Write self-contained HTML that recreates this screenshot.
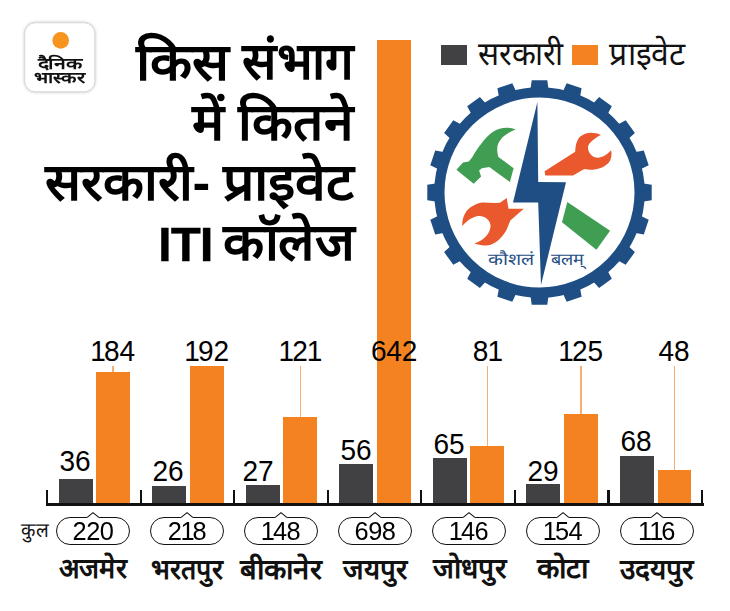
<!DOCTYPE html>
<html lang="hi"><head><meta charset="utf-8"><title>किस संभाग में कितने सरकारी- प्राइवेट ITI कॉलेज</title>
<style>
html,body{margin:0;padding:0;background:#fff}
body{width:730px;height:611px;overflow:hidden;font-family:"Liberation Sans",sans-serif;color:#000}
#c{position:relative;width:730px;height:611px;overflow:hidden;background:#fff}
.abs,.hi,.bar,.num,.ld,.tick,.pill{position:absolute}
.hi{overflow:visible}
.hi text,.svgt{font-family:"Liberation Sans",sans-serif}
.g{background:#414042}.o{background:#f58220}
.ld{width:1.4px;background:#f8ae72}
.tick,.axis{background:#111;position:absolute}
.num{font-size:28.60px;line-height:1;white-space:nowrap;text-align:center;letter-spacing:-0.2px;transform:translateX(-50%) scaleX(.98)}
.pill{box-sizing:border-box;border:1.1px solid #111;border-radius:14px;background:#fff;text-align:center}
.pill>span{position:absolute;left:0;right:0;text-align:center;line-height:1;letter-spacing:-0.4px;transform:scaleX(.97)}
.n1{margin:0 -1.7px 0 -0.9px}
.latin{position:absolute;font-weight:bold;line-height:1;white-space:nowrap;transform-origin:0 0}
</style></head><body><div id="c">
<svg class="abs" role="img" aria-label="ITI emblem" style="left:0;top:0" width="730" height="611" viewBox="0 0 730 611"><path fill="#1f4e84" d="M530.6 88.6L531.7 80.3L547.3 80.3L548.4 88.6ZM563.1 90.9L566.7 83.3L581.6 88.2L580.1 96.4ZM593.4 103.2L599.1 97.1L611.8 106.3L607.8 113.7ZM618.3 124.2L625.7 120.2L634.9 132.9L628.8 138.6ZM635.6 151.9L643.8 150.4L648.7 165.3L641.1 168.9ZM643.4 183.6L651.7 184.7L651.7 200.3L643.4 201.4ZM641.1 216.1L648.7 219.7L643.8 234.6L635.6 233.1ZM628.8 246.4L634.9 252.1L625.7 264.8L618.3 260.8ZM607.8 271.3L611.8 278.7L599.1 287.9L593.4 281.8ZM580.1 288.6L581.6 296.8L566.7 301.7L563.1 294.1ZM548.4 296.4L547.3 304.7L531.7 304.7L530.6 296.4ZM515.9 294.1L512.3 301.7L497.4 296.8L498.9 288.6ZM485.6 281.8L479.9 287.9L467.2 278.7L471.2 271.3ZM460.7 260.8L453.3 264.8L444.1 252.1L450.2 246.4ZM443.4 233.1L435.2 234.6L430.3 219.7L437.9 216.1ZM435.6 201.4L427.3 200.3L427.3 184.7L435.6 183.6ZM437.9 168.9L430.3 165.3L435.2 150.4L443.4 151.9ZM450.2 138.6L444.1 132.9L453.3 120.2L460.7 124.2ZM471.2 113.7L467.2 106.3L479.9 97.1L485.6 103.2ZM498.9 96.4L497.4 88.2L512.3 83.3L515.9 90.9Z"/><circle cx="539.5" cy="192.5" r="100.15" fill="none" stroke="#1f4e84" stroke-width="10.30"/><path fill="#1f4e84" d="M537.4 102L538.2 182L566 182.3L541 285L538.2 202.5L513 202.5Z"/><path fill="#3f9e52" d="M515.6 129.5C509 127 500.8 126.9 492.6 132C484.4 138 477 149.2 472.1 157.5L468.8 161.6L463 162.4L456.4 169.8L473.7 183.8L481.1 176.4L479.1 170.6L481.9 168.2L489.3 167L509.9 182.1L513.6 168.2L498.4 157.1C496 148 497.5 143 500.8 139.4C504 135.5 509 132 515.6 129.5Z"/><path fill="#3f9e52" d="M567.3 202L610.1 230.7L596.4 249.7L562 222.2Z"/><path fill="#e9592d" d="M544.6 171.2L575.2 151.7C575.5 143 578 137.5 581.5 135.7C586 132.3 594 131.5 600.9 135C594 138.5 589 143 588.1 146.2C587.5 151 590.5 155.5 594.7 157.3C600.5 158.8 606.5 155.5 611.1 150.3C612.5 156 610.5 161 607.9 163.5C603 168.5 593.5 171.2 584.2 169.1L573.1 175.4L545.3 175.6Z"/><path fill="#e9592d" d="M506.7 198L500.4 202.5C494 203.8 488 202.3 482.4 202.5C474 203.5 468 209 466.2 211.5C463.3 216 462 221 462.2 225.9C467 220.5 473 216.5 478.8 216C485 215.8 489.8 220 490.5 225C490.8 231 487 236 482.4 239.4C479.8 241.3 477 242.5 474.3 243.3C480 246 487 245.8 491.4 244.4C498 242 503.5 235.5 506.7 229.5L510.3 220.5L523.8 208.8L508.5 208.8Z"/><text class="svgt" x="488.2" y="264.9" font-size="16.6" fill="#1f4e84" textLength="45.5" lengthAdjust="spacingAndGlyphs">कौशलं</text><text class="svgt" x="551" y="264.9" font-size="16.6" fill="#1f4e84" textLength="32.5" lengthAdjust="spacingAndGlyphs">बलम्</text></svg>
<svg class="abs" role="img" aria-label="Dainik Bhaskar" style="left:0;top:0;filter:drop-shadow(0 0 1.5px rgba(0,0,0,.25))" width="130" height="110" viewBox="0 0 130 110"><rect x="24.8" y="22.8" width="70" height="69" rx="10.5" fill="#fff" stroke="#d9d9d9" stroke-width="1"/><circle cx="60.7" cy="40.4" r="8.3" fill="#f7941d"/><text class="svgt" x="37.53" y="68.5" font-size="15.6" font-weight="bold" fill="#111" textLength="45" lengthAdjust="spacingAndGlyphs">दैनिक</text><text class="svgt" x="33.94" y="82.5" font-size="15.6" font-weight="bold" fill="#111" textLength="50.4" lengthAdjust="spacingAndGlyphs">भास्कर</text></svg>
<svg class="hi" role="img" aria-label="किस" style="left:133.86px;top:32.83px;width:97.79px;height:48.01px" viewBox="0 0 97.79 48.01"><text x="2.30" y="46.97" font-size="51.8" font-weight="bold" fill="#000" textLength="93.2" lengthAdjust="spacingAndGlyphs">किस</text></svg>
<svg class="hi" role="img" aria-label="संभाग" style="left:239.78px;top:33.45px;width:115.75px;height:47.39px" viewBox="0 0 115.75 47.39"><text x="2.25" y="46.35" font-size="51.8" font-weight="bold" fill="#000" textLength="111.2" lengthAdjust="spacingAndGlyphs">संभाग</text></svg>
<svg class="hi" role="img" aria-label="में" style="left:190.36px;top:93.45px;width:36.77px;height:48.09px" viewBox="0 0 36.77 48.09"><text x="2.28" y="47.05" font-size="51.8" font-weight="bold" fill="#000" textLength="32.2" lengthAdjust="spacingAndGlyphs">में</text></svg>
<svg class="hi" role="img" aria-label="कितने" style="left:236.08px;top:93.45px;width:119.53px;height:48.09px" viewBox="0 0 119.53 48.09"><text x="2.24" y="47.05" font-size="51.8" font-weight="bold" fill="#000" textLength="115.1" lengthAdjust="spacingAndGlyphs">कितने</text></svg>
<svg class="hi" role="img" aria-label="सरकारी-" style="left:43.36px;top:152.41px;width:167.48px;height:48.62px" viewBox="0 0 167.48 48.62"><text x="2.29" y="47.58" font-size="51.8" font-weight="bold" fill="#000" textLength="165" lengthAdjust="spacingAndGlyphs">सरकारी-</text></svg>
<svg class="hi" role="img" aria-label="प्राइवेट" style="left:220.56px;top:152.95px;width:135.18px;height:57.48px" viewBox="0 0 135.18 57.48"><text x="2.29" y="47.02" font-size="51.8" font-weight="bold" fill="#000" textLength="130.6" lengthAdjust="spacingAndGlyphs">प्राइवेट</text></svg>
<svg class="hi" role="img" aria-label="कॉलेज" style="left:220.86px;top:213.45px;width:135.28px;height:48.09px" viewBox="0 0 135.28 48.09"><text x="2.29" y="47.05" font-size="51.8" font-weight="bold" fill="#000" textLength="130.7" lengthAdjust="spacingAndGlyphs">कॉलेज</text></svg>
<div class="latin" style="left:157.6px;top:220.5px;font-size:47.4px;letter-spacing:-1.0px;transform:scaleX(1.04);-webkit-text-stroke:0.3px #000">ITI</div>
<div class="abs g" style="left:441.0px;top:44.8px;width:26.2px;height:20.4px"></div><svg class="hi" role="img" aria-label="सरकारी" style="left:476.84px;top:35.39px;width:87.32px;height:30.36px" viewBox="0 0 87.32 30.36"><text x="1.29" y="29.70" font-size="32.8" fill="#111" textLength="84.7" lengthAdjust="spacingAndGlyphs">सरकारी</text></svg><div class="abs o" style="left:571.5px;top:44.8px;width:26.3px;height:20.4px"></div><svg class="hi" role="img" aria-label="प्राइवेट" style="left:607.64px;top:35.42px;width:78.82px;height:36.17px" viewBox="0 0 78.82 36.17"><text x="1.29" y="29.68" font-size="32.8" fill="#111" textLength="76.2" lengthAdjust="spacingAndGlyphs">प्राइवेट</text></svg>
<div class="bar g" style="left:58.70px;top:478.9px;width:33.9px;height:25.1px"></div><div class="bar o" style="left:96.20px;top:371.8px;width:33.9px;height:132.2px"></div><div class="ld" style="left:112.45px;top:366.3px;height:5.5px"></div><div class="num" style="left:75.05px;top:447.4px">36</div><div class="num" style="left:113.15px;top:337.2px"><span class="n1">1</span>84</div><div class="pill" style="left:56.00px;top:516.5px;width:74px;height:28px"><span style="top:0.4px;font-size:26.2px">220</span></div><svg class="abs" style="left:86.00px;top:510.5px" width="14" height="8" viewBox="0 0 14 8"><path d="M0.6 7.6L1.2 6.4L7 1.6L12.8 6.4L13.4 7.6Z" fill="#fff"/><path d="M1.2 6.45L7 1.6L12.8 6.45" fill="none" stroke="#111" stroke-width="1.1"/></svg><svg class="hi" role="img" aria-label="अजमेर" style="left:58.99px;top:553.39px;width:68.61px;height:25.97px" viewBox="0 0 68.61 25.97"><text x="-0.08" y="25.41" font-size="28" font-weight="bold" fill="#111" textLength="67.5" lengthAdjust="spacingAndGlyphs">अजमेर</text></svg>
<div class="bar g" style="left:152.25px;top:486.2px;width:33.9px;height:17.8px"></div><div class="bar o" style="left:189.75px;top:366.0px;width:33.9px;height:138.0px"></div><div class="num" style="left:168.40px;top:456.5px">26</div><div class="num" style="left:206.70px;top:337.2px"><span class="n1">1</span>92</div><div class="pill" style="left:149.95px;top:516.5px;width:74px;height:28px"><span style="top:0.4px;font-size:26.2px">2<span class="n1">1</span>8</span></div><svg class="abs" style="left:179.95px;top:510.5px" width="14" height="8" viewBox="0 0 14 8"><path d="M0.6 7.6L1.2 6.4L7 1.6L12.8 6.4L13.4 7.6Z" fill="#fff"/><path d="M1.2 6.45L7 1.6L12.8 6.45" fill="none" stroke="#111" stroke-width="1.1"/></svg><svg class="hi" role="img" aria-label="भरतपुर" style="left:150.25px;top:560.23px;width:73.40px;height:27.77px" viewBox="0 0 73.40 27.77"><text x="1.18" y="18.56" font-size="28" font-weight="bold" fill="#111" textLength="71" lengthAdjust="spacingAndGlyphs">भरतपुर</text></svg>
<div class="bar g" style="left:245.80px;top:485.2px;width:33.9px;height:18.8px"></div><div class="bar o" style="left:283.30px;top:417.2px;width:33.9px;height:86.8px"></div><div class="ld" style="left:299.55px;top:366.3px;height:50.9px"></div><div class="num" style="left:258.45px;top:457.4px">27</div><div class="num" style="left:300.25px;top:337.2px"><span class="n1">1</span>2<span class="n1">1</span></div><div class="pill" style="left:243.90px;top:516.5px;width:74px;height:28px"><span style="top:0.4px;font-size:26.2px"><span class="n1">1</span>48</span></div><svg class="abs" style="left:273.90px;top:510.5px" width="14" height="8" viewBox="0 0 14 8"><path d="M0.6 7.6L1.2 6.4L7 1.6L12.8 6.4L13.4 7.6Z" fill="#fff"/><path d="M1.2 6.45L7 1.6L12.8 6.45" fill="none" stroke="#111" stroke-width="1.1"/></svg><svg class="hi" role="img" aria-label="बीकानेर" style="left:239.04px;top:553.17px;width:83.73px;height:26.19px" viewBox="0 0 83.73 26.19"><text x="1.18" y="25.63" font-size="28" font-weight="bold" fill="#111" textLength="81.4" lengthAdjust="spacingAndGlyphs">बीकानेर</text></svg>
<div class="bar g" style="left:339.35px;top:464.4px;width:33.9px;height:39.6px"></div><div class="bar o" style="left:376.85px;top:40.0px;width:33.9px;height:464.0px"></div><div class="num" style="left:356.30px;top:435.6px">56</div><div class="num" style="left:393.80px;top:337.2px">642</div><div class="pill" style="left:337.85px;top:516.5px;width:74px;height:28px"><span style="top:0.4px;font-size:26.2px">698</span></div><svg class="abs" style="left:367.85px;top:510.5px" width="14" height="8" viewBox="0 0 14 8"><path d="M0.6 7.6L1.2 6.4L7 1.6L12.8 6.4L13.4 7.6Z" fill="#fff"/><path d="M1.2 6.45L7 1.6L12.8 6.45" fill="none" stroke="#111" stroke-width="1.1"/></svg><svg class="hi" role="img" aria-label="जयपुर" style="left:341.94px;top:560.23px;width:65.81px;height:27.77px" viewBox="0 0 65.81 27.77"><text x="1.20" y="18.56" font-size="28" font-weight="bold" fill="#111" textLength="63.4" lengthAdjust="spacingAndGlyphs">जयपुर</text></svg>
<div class="bar g" style="left:432.90px;top:458.0px;width:33.9px;height:46.0px"></div><div class="bar o" style="left:470.40px;top:446.2px;width:33.9px;height:57.8px"></div><div class="ld" style="left:486.65px;top:366.3px;height:79.9px"></div><div class="num" style="left:449.25px;top:430.2px">65</div><div class="num" style="left:487.35px;top:337.2px">8<span class="n1">1</span></div><div class="pill" style="left:431.80px;top:516.5px;width:74px;height:28px"><span style="top:0.4px;font-size:26.2px"><span class="n1">1</span>46</span></div><svg class="abs" style="left:461.80px;top:510.5px" width="14" height="8" viewBox="0 0 14 8"><path d="M0.6 7.6L1.2 6.4L7 1.6L12.8 6.4L13.4 7.6Z" fill="#fff"/><path d="M1.2 6.45L7 1.6L12.8 6.45" fill="none" stroke="#111" stroke-width="1.1"/></svg><svg class="hi" role="img" aria-label="जोधपुर" style="left:431.84px;top:553.39px;width:74.91px;height:34.61px" viewBox="0 0 74.91 34.61"><text x="1.20" y="25.40" font-size="28" font-weight="bold" fill="#111" textLength="72.5" lengthAdjust="spacingAndGlyphs">जोधपुर</text></svg>
<div class="bar g" style="left:526.45px;top:484.0px;width:33.9px;height:20.0px"></div><div class="bar o" style="left:563.95px;top:414.4px;width:33.9px;height:89.6px"></div><div class="ld" style="left:580.20px;top:366.3px;height:48.1px"></div><div class="num" style="left:543.10px;top:456.8px">29</div><div class="num" style="left:580.90px;top:337.2px"><span class="n1">1</span>25</div><div class="pill" style="left:525.75px;top:516.5px;width:74px;height:28px"><span style="top:0.4px;font-size:26.2px"><span class="n1">1</span>54</span></div><svg class="abs" style="left:555.75px;top:510.5px" width="14" height="8" viewBox="0 0 14 8"><path d="M0.6 7.6L1.2 6.4L7 1.6L12.8 6.4L13.4 7.6Z" fill="#fff"/><path d="M1.2 6.45L7 1.6L12.8 6.45" fill="none" stroke="#111" stroke-width="1.1"/></svg><svg class="hi" role="img" aria-label="कोटा" style="left:536.01px;top:553.39px;width:53.49px;height:26.33px" viewBox="0 0 53.49 26.33"><text x="1.20" y="25.40" font-size="28" font-weight="bold" fill="#111" textLength="51.1" lengthAdjust="spacingAndGlyphs">कोटा</text></svg>
<div class="bar g" style="left:620.00px;top:455.6px;width:33.9px;height:48.4px"></div><div class="bar o" style="left:657.50px;top:469.8px;width:33.9px;height:34.2px"></div><div class="ld" style="left:673.75px;top:366.3px;height:103.5px"></div><div class="num" style="left:635.95px;top:427.1px">68</div><div class="num" style="left:674.45px;top:337.2px">48</div><div class="pill" style="left:619.70px;top:516.5px;width:74px;height:28px"><span style="top:0.4px;font-size:26.2px"><span class="n1">1</span><span class="n1">1</span>6</span></div><svg class="abs" style="left:649.70px;top:510.5px" width="14" height="8" viewBox="0 0 14 8"><path d="M0.6 7.6L1.2 6.4L7 1.6L12.8 6.4L13.4 7.6Z" fill="#fff"/><path d="M1.2 6.45L7 1.6L12.8 6.45" fill="none" stroke="#111" stroke-width="1.1"/></svg><svg class="hi" role="img" aria-label="उदयपुर" style="left:619.37px;top:560.23px;width:75.65px;height:27.77px" viewBox="0 0 75.65 27.77"><text x="1.20" y="18.56" font-size="28" font-weight="bold" fill="#111" textLength="73.3" lengthAdjust="spacingAndGlyphs">उदयपुर</text></svg>
<div class="axis" style="left:46.0px;top:503.0px;width:657.5px;height:2.5px"></div><div class="tick" style="left:46.00px;top:490.2px;width:2.3px;height:13px"></div><div class="tick" style="left:139.55px;top:490.2px;width:2.3px;height:13px"></div><div class="tick" style="left:233.10px;top:490.2px;width:2.3px;height:13px"></div><div class="tick" style="left:326.65px;top:490.2px;width:2.3px;height:13px"></div><div class="tick" style="left:420.20px;top:490.2px;width:2.3px;height:13px"></div><div class="tick" style="left:513.75px;top:490.2px;width:2.3px;height:13px"></div><div class="tick" style="left:607.30px;top:490.2px;width:2.3px;height:13px"></div><div class="tick" style="left:700.85px;top:490.2px;width:2.3px;height:13px"></div>
<svg class="hi" role="img" aria-label="कुल" style="left:19.91px;top:524.30px;width:29.28px;height:19.43px" viewBox="0 0 29.28 19.43"><text x="0.74" y="13.30" font-size="20.3" fill="#111" textLength="27.8" lengthAdjust="spacingAndGlyphs">कुल</text></svg>
</div></body></html>
